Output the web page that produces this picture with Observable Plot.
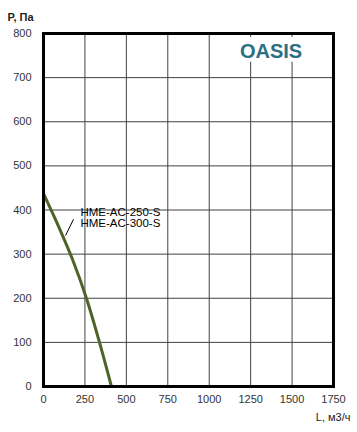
<!DOCTYPE html>
<html>
<head>
<meta charset="utf-8">
<script src="https://cdn.jsdelivr.net/npm/d3@7"></script>
<script src="https://cdn.jsdelivr.net/npm/@observablehq/plot@0.6"></script>
<style>
  html, body { margin: 0; padding: 0; background: white; }
</style>
</head>
<body>
<div id="chart"></div>
<script>
// Data
const xTicks = [0, 250, 500, 750, 1000, 1250, 1500, 1750];
const yTicks = [0, 100, 200, 300, 400, 500, 600, 700, 800];
const flow = [0, 100, 173, 259, 338, 410];        // L, м3/ч
const pressure = [437, 355, 290, 200, 100, 0];     // P, Па
const seriesNames = ["HME-AC-250-S", "HME-AC-300-S"];
const labelX = [223, 223];
const labelY = [395.5, 369.5];
const leaderX = [181, 133];
const leaderY = [379, 342];
const logoText = ["OASIS"];
const logoX = [1373];
const logoY = [759];
const logoBoxX = [1159, 1581];
const logoBoxY = [735, 791];
const yTitle = ["P, Па"];
const xTitle = ["L, м3/ч"];

const curve = flow.map((f, i) => ({x: f, y: pressure[i]}));
const labels = seriesNames.map((n, i) => ({name: n, x: labelX[i], y: labelY[i]}));

const chart = Plot.plot({
  width: 357,
  height: 432,
  marginLeft: 43,
  marginRight: 24,
  marginTop: 33,
  marginBottom: 46,
  style: {fontFamily: "'Liberation Sans', Arial, sans-serif", fontSize: "11px", color: "#333", background: "white"},
  x: {domain: [0, 1750], ticks: xTicks, label: null},
  y: {domain: [0, 800], ticks: yTicks, label: null},
  marks: [
    Plot.gridX(xTicks, {stroke: "#404040", strokeOpacity: 1}),
    Plot.gridY(yTicks, {stroke: "#404040", strokeOpacity: 1}),
    Plot.rect([{}], {x1: logoBoxX[0], x2: logoBoxX[1], y1: logoBoxY[0], y2: logoBoxY[1], fill: "white"}),
    Plot.text(logoText, {x: logoX, y: logoY, text: d => d, fontSize: 20, fontWeight: "bold", fill: "#2c6e84"}),
    Plot.line(curve, {x: "x", y: "y", stroke: "#4f6228", strokeWidth: 3, curve: "monotone-x"}),
    Plot.link([{}], {x1: leaderX[0], y1: leaderY[0], x2: leaderX[1], y2: leaderY[1], stroke: "black", strokeWidth: 1}),
    Plot.text(labels, {x: "x", y: "y", text: "name", textAnchor: "start", fontSize: 11.5, fill: "black"}),
    Plot.frame({stroke: "black", strokeWidth: 3}),
    Plot.axisX(xTicks, {tickSize: 0, tickPadding: 9, fontSize: 11, fill: "#333", label: null, tickFormat: d => String(d)}),
    Plot.axisY(yTicks, {tickSize: 0, tickPadding: 12, fontSize: 11, fill: "#333", label: null, tickFormat: d => String(d)}),
    Plot.text(yTitle, {frameAnchor: "top-left", text: d => d, dx: -36, dy: -20, textAnchor: "start", fontWeight: "bold", fontSize: 11, fill: "#222"}),
    Plot.text(xTitle, {frameAnchor: "bottom-right", text: d => d, dx: 17, dy: 34, textAnchor: "end", fontSize: 11, fill: "#222"})
  ]
});
document.getElementById("chart").append(chart);
</script>
</body>
</html>
